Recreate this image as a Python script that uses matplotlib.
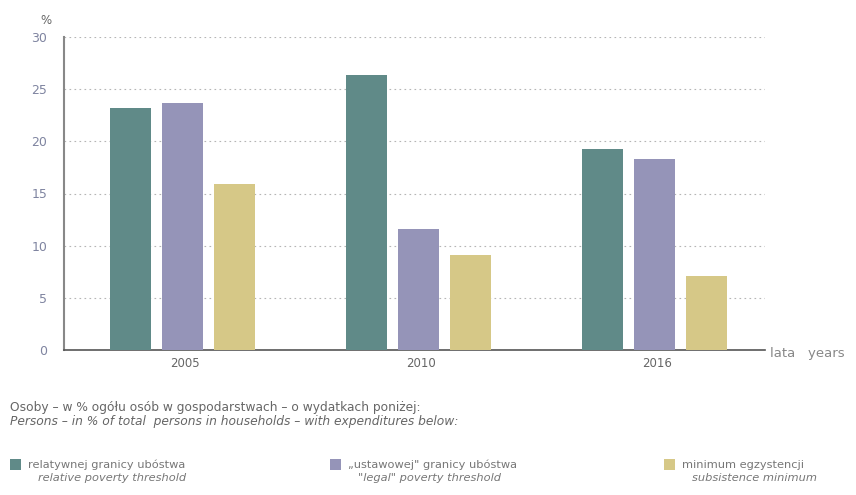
import numpy as np
import matplotlib.pyplot as plt
from matplotlib.patches import Rectangle

# data
years = ['2005', '2010', '2016']
relative = [23.2, 26.4, 19.3]
legal = [23.7, 11.6, 18.3]
subsistence = [15.9, 9.1, 7.1]

labels_pl = ['relatywnej granicy ubóstwa', '„ustawowej" granicy ubóstwa', 'minimum egzystencji']
labels_en = ['relative poverty threshold', '"legal" poverty threshold', 'subsistence minimum']
colors = ['#608a88', '#9594b8', '#d6c887']

W, H = 856, 495
fig = plt.figure(figsize=(W / 100, H / 100), dpi=100)
plt.rcParams['font.family'] = 'DejaVu Sans'

def px(x, y):
    return x / W, 1 - y / H

left, right, top, bottom = 64, 765, 37, 350
ax = fig.add_axes([left / W, 1 - bottom / H, (right - left) / W, (bottom - top) / H])

x = np.arange(len(years))
step, width = 0.22, 0.174
for i, (vals, c) in enumerate(zip([relative, legal, subsistence], colors)):
    ax.bar(x + (i - 1) * step - 0.01, vals, width, color=c, zorder=3)

ax.set_xlim(-0.513, 2.458)
ax.set_ylim(0, 30)
ax.set_yticks(range(0, 31, 5))
ax.set_xticks(x)
ax.set_xticklabels(years)
ax.tick_params(axis='both', length=0)
ax.tick_params(axis='y', colors='#7f84a0', pad=12, labelsize=9)
ax.tick_params(axis='x', colors='#666666', pad=5, labelsize=8.5)
ax.yaxis.grid(True, linestyle=(0, (1.5, 3)), color='#b5b5b5', linewidth=0.8, zorder=0)
for s in ['top', 'right']:
    ax.spines[s].set_visible(False)
ax.spines['left'].set_color('#888888')
ax.spines['left'].set_linewidth(1.5)
ax.spines['bottom'].set_color('#555555')
ax.spines['bottom'].set_linewidth(1.2)

fig.text(*px(40, 20), '%', fontsize=8.5, color='#666666', va='center')
fig.text(*px(770, 353), 'lata   years', fontsize=9.5, color='#888888', va='center')

fig.text(*px(10, 408), 'Osoby – w % ogółu osób w gospodarstwach – o wydatkach poniżej:',
         fontsize=8.8, color='#666666', va='center')
fig.text(*px(10, 422), 'Persons – in % of total  persons in households – with expenditures below:',
         fontsize=8.8, color='#666666', va='center', style='italic')

leg_x = [10, 330, 664]
for lx, c, pl, en in zip(leg_x, colors, labels_pl, labels_en):
    fx, fy = px(lx, 470)
    fig.patches.append(Rectangle((fx, fy), 11 / W, 11 / H, transform=fig.transFigure,
                                 facecolor=c, edgecolor='none'))
    fig.text(*px(lx + 18, 465), pl, fontsize=8.2, color='#777777', va='center')
    fig.text(*px(lx + 28, 478), en, fontsize=8.2, color='#777777', va='center', style='italic')

fig.savefig('out.png', dpi=100, facecolor='white')
